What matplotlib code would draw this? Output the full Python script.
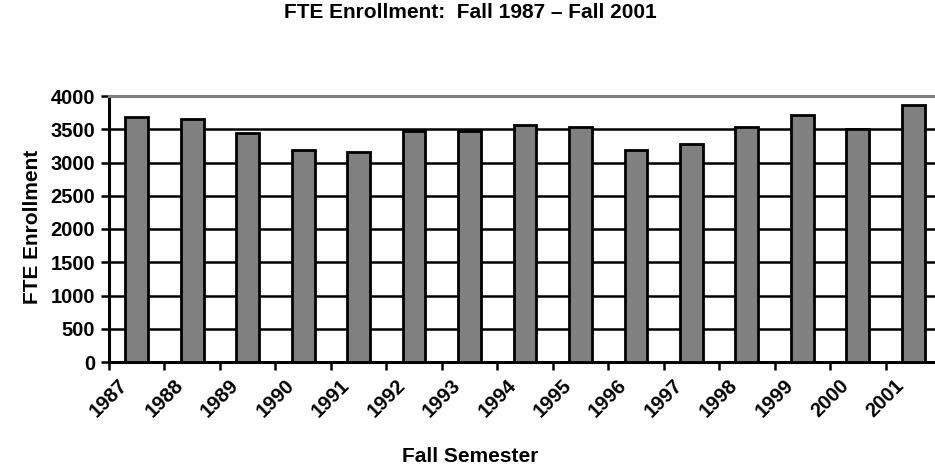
import matplotlib
matplotlib.use("Agg")
import matplotlib.pyplot as plt
from matplotlib import font_manager
import numpy as np

# --- Data ---
years = ["1987", "1988", "1989", "1990", "1991", "1992", "1993", "1994",
         "1995", "1996", "1997", "1998", "1999", "2000", "2001"]
fte = [3680, 3655, 3450, 3190, 3155, 3475, 3475, 3560,
       3530, 3190, 3280, 3530, 3720, 3500, 3870]
yticks = [0, 500, 1000, 1500, 2000, 2500, 3000, 3500, 4000]

# Narrow bold font if present, plain Liberation Sans otherwise
names = {f.name for f in font_manager.fontManager.ttflist}
family = "Liberation Sans Narrow" if "Liberation Sans Narrow" in names else "Liberation Sans"
plt.rcParams["font.family"] = [family, "DejaVu Sans"]
plt.rcParams["font.weight"] = "bold"

fig = plt.figure(figsize=(9.35, 4.71), dpi=100)
# plot area runs past the right edge of the image, as in the reference
ax = fig.add_axes([109 / 935, 109 / 471, 832 / 935, 266 / 471])

x = np.arange(len(years)) + 0.5
ax.bar(x, fte, width=0.41, color="#808080", edgecolor="black", linewidth=2, zorder=3)

ax.set_xlim(0, len(years))
ax.set_ylim(0, 4000)
ax.set_yticks(yticks)
ax.set_yticklabels([str(v) for v in yticks], fontsize=14.5)
ax.yaxis.grid(True, color="black", linewidth=1.8, zorder=0)

ax.set_xticks(np.arange(len(years)))
ax.set_xticklabels(years, rotation=45, ha="center", va="top", fontsize=14.5)
ax.tick_params(axis="both", length=6, width=1.8, color="black", pad=4)

ax.spines["right"].set_visible(False)
ax.spines["top"].set_color("#808080")
ax.spines["top"].set_linewidth(2.2)
ax.spines["left"].set_linewidth(2.2)
ax.spines["bottom"].set_linewidth(2.2)

fig.text(470 / 935, 1 - 12 / 471, "FTE Enrollment:  Fall 1987 \u2013 Fall 2001",
         ha="center", va="center", fontsize=15, fontweight="bold")
fig.text(33 / 935, 1 - 227 / 471, "FTE Enrollment", rotation=90,
         ha="center", va="center", fontsize=15, fontweight="bold")
fig.text(470 / 935, 1 - 457 / 471, "Fall Semester",
         ha="center", va="center", fontsize=15, fontweight="bold")

fig.savefig("out.png", dpi=100)
